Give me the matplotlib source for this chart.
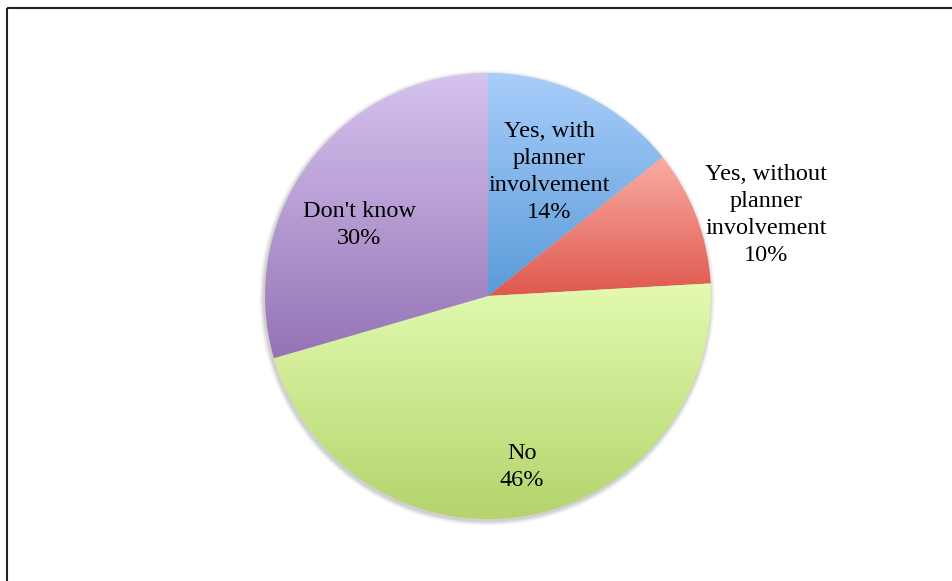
import numpy as np
import matplotlib

matplotlib.use("Agg")
import matplotlib.pyplot as plt
from matplotlib.colors import LinearSegmentedColormap
from matplotlib.patches import Circle

# survey answers, share of respondents (%); labels show the rounded value
labels = ["Yes, with\nplanner\ninvolvement", "Yes, without\nplanner\ninvolvement", "No", "Don't know"]
shares = [14.3, 9.8, 46.4, 29.5]
# gradient (top, bottom) colours per slice
top_colors = ["#A9CEFB", "#F9ACA4", "#E3FAB0", "#D6C3EF"]
bottom_colors = ["#5A9AD8", "#DF584D", "#B4D46C", "#9574B6"]
# label placement: radius fraction and angular nudge (deg) from slice mid-angle
label_dist = [0.62, 1.30, 0.78, 0.66]
label_nudge = [-0.6, -4.6, 1.4, 8.0]

W, H = 953, 581
fig = plt.figure(figsize=(W / 100, H / 100), dpi=100)
ax = fig.add_axes([0, 0, 1, 1])

cx, cy, R = 488, H - 296, 223

# soft shadow behind the pie
for i, a in enumerate([0.05, 0.05, 0.04, 0.03, 0.02]):
    ax.add_patch(Circle((cx - 1, cy - 2), R + 1 + i, color="black", alpha=a, lw=0, zorder=0))

wedges, _ = ax.pie(
    shares,
    startangle=90,
    counterclock=False,
    center=(cx, cy),
    radius=R,
    frame=True,
    wedgeprops=dict(facecolor="none", edgecolor="none"),
)

grad = np.linspace(0, 1, 256).reshape(-1, 1)
for w, c0, c1 in zip(wedges, top_colors, bottom_colors):
    ext = w.get_path().get_extents(w.get_patch_transform())
    cmap = LinearSegmentedColormap.from_list("g", [c1, c0])
    im = ax.imshow(
        grad,
        cmap=cmap,
        origin="lower",
        extent=[ext.x0, ext.x1, ext.y0, ext.y1],
        aspect="auto",
        interpolation="bilinear",
        zorder=1,
    )
    im.set_clip_path(w)

ax.set_xlim(0, W)
ax.set_ylim(0, H)
ax.set_aspect("equal")
ax.axis("off")

for w, lab, s, d, nud in zip(wedges, labels, shares, label_dist, label_nudge):
    mid = np.deg2rad((w.theta1 + w.theta2) / 2 + nud)
    x = cx + d * R * np.cos(mid)
    y = cy + d * R * np.sin(mid)
    ax.text(
        x, y, f"{lab}\n{s:.0f}%",
        ha="center", va="center", fontsize=17.5,
        family="Liberation Serif", color="black",
        linespacing=1.38, zorder=3,
    )

# frame lines (top and left edges only)
ax.plot([7.5, W], [H - 7.5, H - 7.5], color="#222222", lw=1.5, solid_capstyle="butt", zorder=4)
ax.plot([7.5, 7.5], [0, H - 7.5], color="#222222", lw=1.5, solid_capstyle="butt", zorder=4)

fig.savefig("out.png", dpi=100)
